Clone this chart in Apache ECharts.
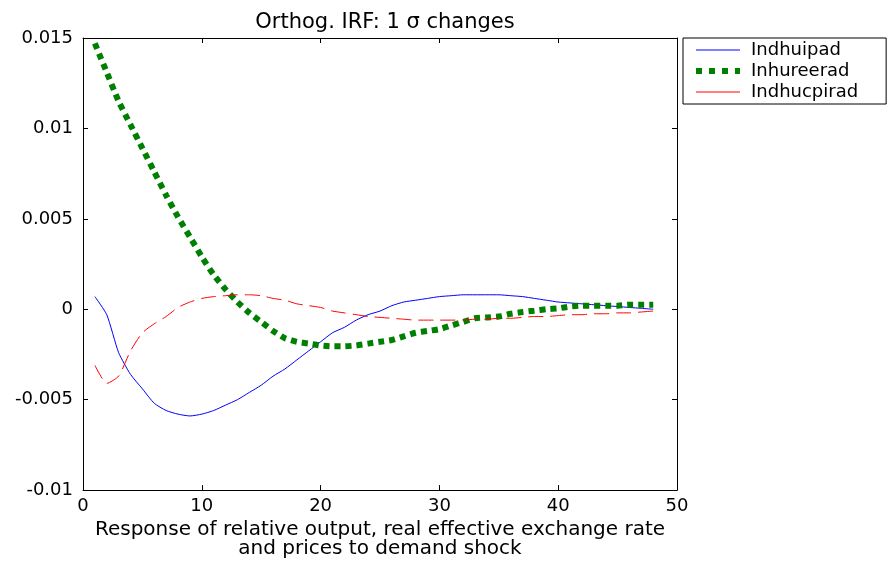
<!DOCTYPE html>
<html>
<head>
<meta charset="utf-8">
<script src="https://cdn.jsdelivr.net/npm/echarts@6/dist/echarts.min.js"></script>
<style>
  html, body { margin: 0; padding: 0; background: #fff; }
  #chart { width: 888px; height: 564px; }
</style>
</head>
<body>
<div id="chart"></div>
<script>
// Horizon (periods after the shock)
const periods = [];
for (let t = 1; t <= 48; t++) periods.push(t);

// Impulse responses to a one-standard-deviation demand shock
const indhuipad = [
  0.0007, -0.0003, -0.0024, -0.0036, -0.0044, -0.0052, -0.0056, -0.0058, -0.0059, -0.0058,
  -0.0056, -0.0053, -0.0050, -0.0046, -0.0042, -0.0037, -0.0033, -0.0028, -0.0023, -0.0018,
  -0.0013, -0.0010, -0.0006, -0.0003, -0.0001, 0.0002, 0.0004, 0.0005, 0.0006, 0.0007,
  0.00075, 0.0008, 0.0008, 0.0008, 0.0008, 0.00075, 0.0007, 0.0006, 0.0005, 0.0004,
  0.00035, 0.0003, 0.00025, 0.0002, 0.00015, 0.0001, 0.00005, 0.0
];
const inhureerad = [
  0.0147, 0.0131, 0.0115, 0.0102, 0.0089, 0.0076, 0.0063, 0.0051, 0.0040, 0.0029,
  0.0019, 0.0011, 0.0004, -0.0002, -0.0007, -0.0012, -0.0016, -0.0018, -0.0019, -0.0020,
  -0.00205, -0.00205, -0.0020, -0.0019, -0.0018, -0.0017, -0.0015, -0.0013, -0.0012, -0.0011,
  -0.0009, -0.0007, -0.0005, -0.00045, -0.0004, -0.00025, -0.00015, -0.00008, 0.0, 0.00005,
  0.00015, 0.0002, 0.0002, 0.0002, 0.0002, 0.00025, 0.00025, 0.00025
];
const indhucpirad = [
  -0.0031, -0.0041, -0.0037, -0.0023, -0.0013, -0.0008, -0.0004, 0.0001, 0.0004, 0.0006,
  0.0007, 0.00075, 0.0008, 0.0008, 0.00075, 0.0006, 0.0005, 0.0003, 0.0002, 0.0001,
  -0.0001, -0.0002, -0.0003, -0.0004, -0.00045, -0.0005, -0.00055, -0.0006, -0.0006, -0.0006,
  -0.0006, -0.0006, -0.00055, -0.00055, -0.0005, -0.0005, -0.00045, -0.0004, -0.0004, -0.00035,
  -0.0003, -0.0003, -0.00025, -0.00025, -0.0002, -0.0002, -0.00015, -0.0001
];

const seriesNames = ['Indhuipad', 'Inhureerad', 'Indhucpirad'];
const yTickLabels = ['-0.01', '-0.005', '0', '0.005', '0.01', '0.015'];
const xTickLabels = ['0', '10', '20', '30', '40', '50'];

const FONT = 'DejaVu Sans';
const pairs = vals => periods.map((t, i) => [t, vals[i]]);

const chart = echarts.init(document.getElementById('chart'), null, { renderer: 'canvas' });

const mirrorAxis = {
  axisLine: { show: true, onZero: false, lineStyle: { color: '#000', width: 1 } },
  axisTick: { show: true, inside: true, length: 5, lineStyle: { color: '#000' } },
  axisLabel: { show: false },
  splitLine: { show: false }
};

chart.setOption({
  animation: false,
  backgroundColor: '#fff',
  title: {
    text: 'Orthog. IRF: 1 σ changes',
    left: 380,
    top: 7,
    textAlign: 'center',
    textStyle: { fontFamily: FONT, fontSize: 21, fontWeight: 'normal', color: '#000' }
  },
  legend: {
    orient: 'vertical',
    left: 683,
    top: 38,
    padding: [3, 28, 3, 10],
    itemWidth: 44,
    itemHeight: 14,
    itemGap: 3,
    borderColor: '#000',
    borderWidth: 1,
    itemStyle: { color: 'rgba(0,0,0,0)', borderWidth: 0, opacity: 0 },
    textStyle: { fontFamily: FONT, fontSize: 18, color: '#000', padding: [0, 0, 0, 6] },
    data: [
      { name: seriesNames[0], lineStyle: { width: 1 } },
      { name: seriesNames[1], lineStyle: { width: 6, type: [6, 7] } },
      { name: seriesNames[2], lineStyle: { width: 1, type: 'solid' } }
    ]
  },
  grid: { left: 83, right: 211, top: 38, bottom: 71, containLabel: false },
  xAxis: [
    {
      type: 'value', min: 0, max: 50, interval: 10,
      position: 'bottom',
      axisLine: { show: true, onZero: false, lineStyle: { color: '#000', width: 1 } },
      axisTick: { show: true, inside: true, length: 5, lineStyle: { color: '#000' } },
      axisLabel: {
        fontFamily: FONT, fontSize: 18, color: '#000', margin: 7,
        formatter: v => xTickLabels[Math.round(v / 10)]
      },
      splitLine: { show: false },
      name: 'Response of relative output, real effective exchange rate\nand prices to demand shock',
      nameLocation: 'middle',
      nameGap: 27,
      nameTextStyle: { fontFamily: FONT, fontSize: 20, color: '#000', lineHeight: 19, verticalAlign: 'top' }
    },
    Object.assign({ type: 'value', min: 0, max: 50, interval: 10, position: 'top' }, mirrorAxis)
  ],
  yAxis: [
    {
      type: 'value', min: -0.01, max: 0.015, interval: 0.005,
      position: 'left',
      axisLine: { show: true, onZero: false, lineStyle: { color: '#000', width: 1 } },
      axisTick: { show: true, inside: true, length: 5, lineStyle: { color: '#000' } },
      axisLabel: {
        fontFamily: FONT, fontSize: 18, color: '#000', margin: 10,
        formatter: v => yTickLabels[Math.round((v + 0.01) / 0.005)]
      },
      splitLine: { show: false }
    },
    Object.assign({ type: 'value', min: -0.01, max: 0.015, interval: 0.005, position: 'right' }, mirrorAxis)
  ],
  series: [
    {
      name: seriesNames[0], type: 'line', data: pairs(indhuipad),
      showSymbol: false, symbol: 'none', smooth: 0.2,
      lineStyle: { color: '#0000ff', width: 1, type: 'solid' },
      itemStyle: { color: '#0000ff' }
    },
    {
      name: seriesNames[1], type: 'line', data: pairs(inhureerad),
      showSymbol: false, symbol: 'none', smooth: 0.2,
      lineStyle: { color: '#008000', width: 6, type: [6, 5], cap: 'butt' },
      itemStyle: { color: '#008000' }
    },
    {
      name: seriesNames[2], type: 'line', data: pairs(indhucpirad),
      showSymbol: false, symbol: 'none', smooth: 0.2,
      lineStyle: { color: '#ff0000', width: 1, type: [15, 7] },
      itemStyle: { color: '#ff0000' }
    }
  ]
});
</script>
</body>
</html>
